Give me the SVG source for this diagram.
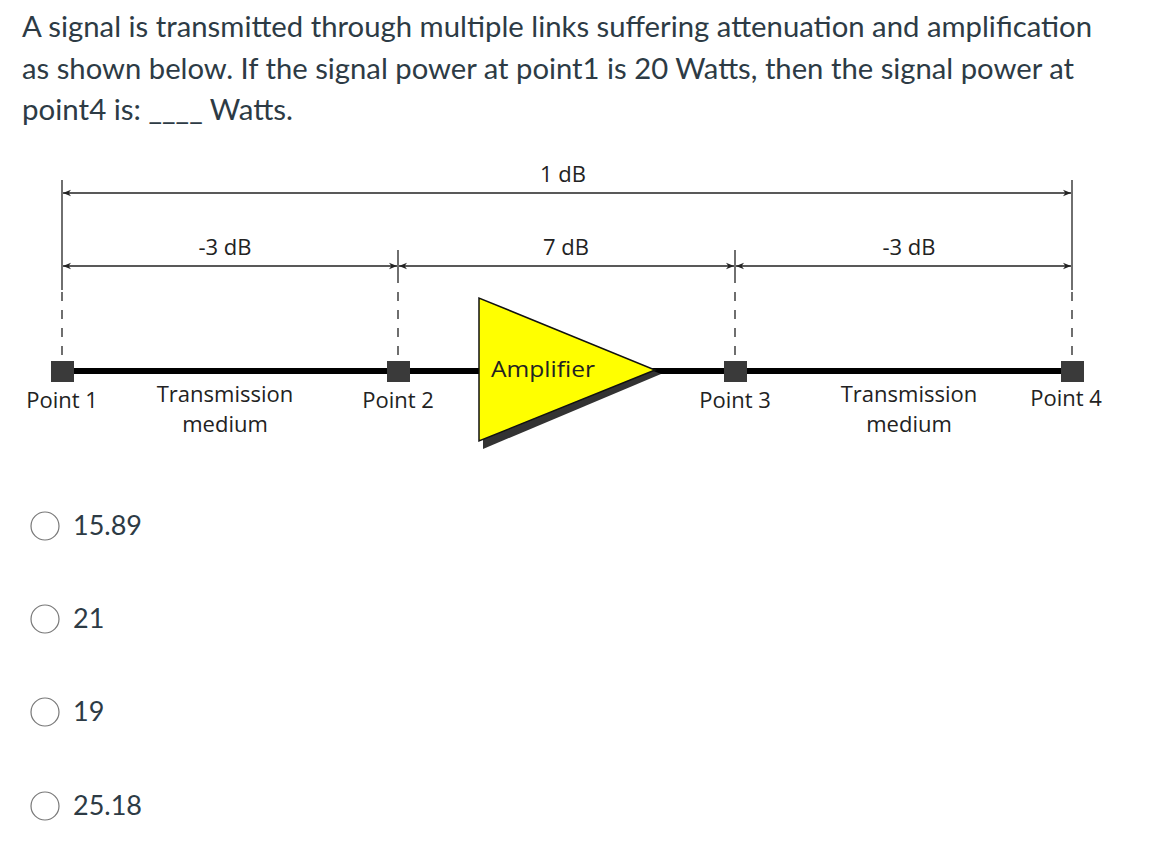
<svg xmlns="http://www.w3.org/2000/svg" width="1158" height="863" viewBox="0 0 1158 863">
<style>
.q{font-family:Lato,"Liberation Sans",sans-serif;font-size:28px;fill:#2d3b45}
.o{font-family:Lato,"Liberation Sans",sans-serif;font-size:27px;fill:#2d3b45}
.d{font-family:"Open Sans","Liberation Sans",sans-serif;font-size:22px;fill:#222}
.dim{stroke:#222;stroke-width:1.3;fill:none}
.dash{stroke:#222;stroke-width:1.3;stroke-dasharray:9,9}
.pt{fill:#3a3a3a}
.rb{fill:#fff;stroke:#777;stroke-width:1.2}
</style>
<defs>
<marker id="a" viewBox="0 0 10 10" refX="10" refY="5" markerWidth="10" markerHeight="8" orient="auto-start-reverse" markerUnits="userSpaceOnUse"><path d="M0,1 L10,5 L0,9 L3,5 z" fill="#222"/></marker>
</defs>
<rect width="1158" height="863" fill="#fff"/>
<text class="q" x="22" y="37" textLength="1070" lengthAdjust="spacingAndGlyphs">A signal is transmitted through multiple links suffering attenuation and amplification</text>
<text class="q" x="22" y="79" textLength="1052" lengthAdjust="spacingAndGlyphs">as shown below. If the signal power at point1 is 20 Watts, then the signal power at</text>
<text class="q" x="22" y="120" textLength="271" lengthAdjust="spacingAndGlyphs">point4 is: ____ Watts.</text>
<g id="connectors">
<line class="dim" x1="62" y1="180" x2="62" y2="290"/>
<line class="dim" x1="1072" y1="180" x2="1072" y2="290"/>
<line class="dim" x1="398" y1="250" x2="398" y2="283"/>
<line class="dim" x1="735" y1="250" x2="735" y2="283"/>
<line class="dash" x1="62" y1="292" x2="62" y2="360"/>
<line class="dash" x1="398" y1="292" x2="398" y2="360"/>
<line class="dash" x1="735" y1="292" x2="735" y2="360"/>
<line class="dash" x1="1072" y1="292" x2="1072" y2="360"/>
<line class="dim" x1="63" y1="193" x2="1071" y2="193" marker-start="url(#a)" marker-end="url(#a)"/>
<line class="dim" x1="63" y1="266" x2="397" y2="266" marker-start="url(#a)" marker-end="url(#a)"/>
<line class="dim" x1="399" y1="266" x2="734" y2="266" marker-start="url(#a)" marker-end="url(#a)"/>
<line class="dim" x1="736" y1="266" x2="1071" y2="266" marker-start="url(#a)" marker-end="url(#a)"/>
<line x1="62" y1="371" x2="1072" y2="371" stroke="#000" stroke-width="6"/>
</g>
<g id="amplifier">
<polygon points="483,303 483,449 661,374" fill="#333"/>
<polygon points="479,298 479,441 655,370" fill="#ffff00" stroke="#111" stroke-width="1.5"/>
<text class="d" x="491" y="377" font-size="23" textLength="104" lengthAdjust="spacingAndGlyphs">Amplifier</text>
</g>
<g id="point1"><rect class="pt" x="51" y="361" width="23" height="21"/><text class="d" x="62" y="408" text-anchor="middle">Point 1</text></g>
<g id="point2"><rect class="pt" x="387" y="361" width="23" height="21"/><text class="d" x="398" y="408" text-anchor="middle">Point 2</text></g>
<g id="point3"><rect class="pt" x="724" y="361" width="23" height="21"/><text class="d" x="735" y="408" text-anchor="middle">Point 3</text></g>
<g id="point4"><rect class="pt" x="1061" y="361" width="23" height="21"/><text class="d" x="1066" y="406" text-anchor="middle">Point 4</text></g>
<g id="labels">
<text class="d" x="225" y="402" text-anchor="middle">Transmission</text>
<text class="d" x="225" y="432" text-anchor="middle">medium</text>
<text class="d" x="909" y="402" text-anchor="middle">Transmission</text>
<text class="d" x="909" y="432" text-anchor="middle">medium</text>
<text class="d" x="563" y="182" text-anchor="middle">1 dB</text>
<text class="d" x="225" y="255" text-anchor="middle">-3 dB</text>
<text class="d" x="566" y="255" text-anchor="middle">7 dB</text>
<text class="d" x="909" y="255" text-anchor="middle">-3 dB</text>
</g>
<g id="options">
<circle class="rb" cx="45" cy="526" r="14"/><text class="o" x="73" y="535">15.89</text>
<circle class="rb" cx="45" cy="619" r="14"/><text class="o" x="73" y="628">21</text>
<circle class="rb" cx="45" cy="712" r="14"/><text class="o" x="73" y="721">19</text>
<circle class="rb" cx="45" cy="806" r="14"/><text class="o" x="73" y="815">25.18</text>
</g>
</svg>
